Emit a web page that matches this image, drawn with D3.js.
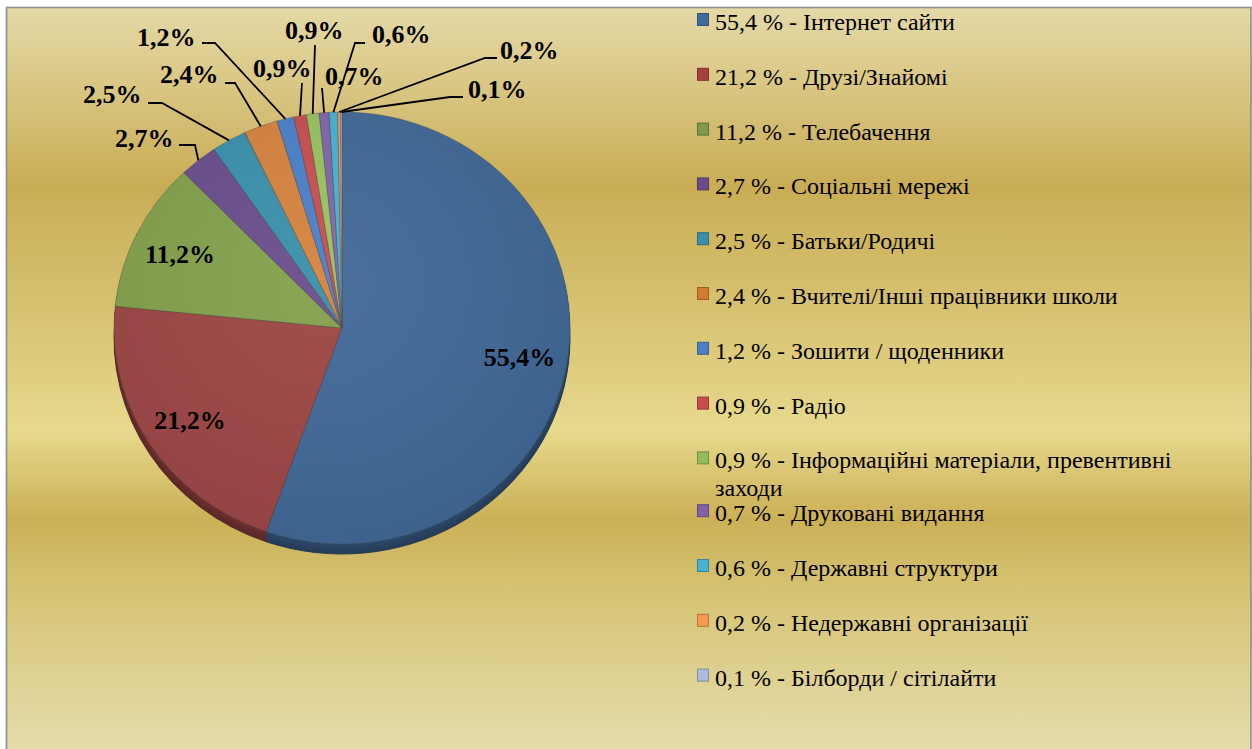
<!DOCTYPE html>
<html><head><meta charset="utf-8">
<script src="https://cdn.jsdelivr.net/npm/d3@7"></script>
<style>html,body{margin:0;padding:0;background:#fff;}svg{display:block;}
.serif{font-family:"Liberation Serif","Times New Roman",Times,Tinos,"Noto Serif","DejaVu Serif","FreeSerif","Nimbus Roman","Nimbus Roman No9 L",Georgia,serif;}</style>
</head><body>
<svg id="chart" width="1252" height="749"></svg>
<script>
// ---- data ----
const categories = [
  "Інтернет сайти","Друзі/Знайомі","Телебачення","Соціальні мережі","Батьки/Родичі",
  "Вчителі/Інші працівники школи","Зошити / щоденники","Радіо",
  "Інформаційні матеріали, превентивні заходи","Друковані видання",
  "Державні структури","Недержавні організації","Білборди / сітілайти"
];
const values = [55.4, 21.2, 11.2, 2.7, 2.5, 2.4, 1.2, 0.9, 0.9, 0.7, 0.6, 0.2, 0.1];
const sliceColors = ["#416897","#9c4644","#84a04c","#6a4e8c","#3a90ac","#d5833e",
  "#4a80c8","#c84e50","#99c25f","#8066a8","#45b2d2","#f79a50","#a9b8d8"];
const legendColors = ["#3f6a9e","#a94040","#7e9a4a","#6a4c8c","#3a8fac","#d47a34",
  "#4a7fc4","#c84d4f","#93bc5a","#8262a8","#46b1d1","#f59a4f","#aabbdd"];

// ---- layout (label placement for small slices: text left x, baseline y, leader elbow, stub end) ----
const outsideLabelLayout = {
  3:  {tx:115, ty:147, elbow:[195,145], stub:[179,145]},
  4:  {tx:83,  ty:103, elbow:[162,103], stub:[148,103]},
  5:  {tx:160, ty:83,  elbow:[235,83],  stub:[225,83]},
  6:  {tx:137, ty:46,  elbow:[215,43],  stub:[202,43]},
  7:  {tx:253, ty:77,  elbow:[302,83],  stub:null},
  8:  {tx:285, ty:39,  elbow:[315,45],  stub:null},
  9:  {tx:325, ty:85,  elbow:[322,88],  stub:null},
  10: {tx:372, ty:43,  elbow:[355,43],  stub:[365,43]},
  11: {tx:500, ty:59,  elbow:[485,58],  stub:[497,58]},
  12: {tx:468, ty:98,  elbow:[450,97],  stub:[463,97]}
};

const fmt = v => String(v.toFixed(1)).replace(".", ",");

const svg = d3.select("#chart");
const defs = svg.append("defs");

// background gradient
const bg = defs.append("linearGradient").attr("id","bg")
  .attr("gradientUnits","userSpaceOnUse").attr("x1",0).attr("y1",8).attr("x2",0).attr("y2",749);
[[0,"#e4d8a6"],[0.08,"#dccb8c"],[0.24,"#c9ad55"],[0.4,"#d6c170"],[0.57,"#e7d98d"],
 [0.69,"#cbb056"],[0.8,"#d7c577"],[1,"#e5dcab"]].forEach(([o,c]) =>
  bg.append("stop").attr("offset",o).attr("stop-color",c));

svg.append("rect").attr("x",6.5).attr("y",7.5).attr("width",1244.5).attr("height",760)
  .attr("fill","url(#bg)").attr("stroke","#8c8c8c").attr("stroke-width",1.6);

// ---- pie ----
const cx = 342, cy = 328, rx = 228, ry = 216, depth = 10;
const sy = ry / rx;
const pieData = d3.pie().sort(null).value(d => d)(values);
const arc = d3.arc().innerRadius(0).outerRadius(rx);
const labelArc = d3.arc().innerRadius(rx*0.79).outerRadius(rx*0.79);

// side (depth)
const sideG = svg.append("g").attr("transform",`translate(${cx},${cy+depth}) scale(1,${sy})`);
sideG.selectAll("path").data(pieData).join("path")
  .attr("d", arc)
  .attr("fill", (d,i) => d3.color(sliceColors[i]).darker(1.6))
  .attr("stroke", (d,i) => d3.color(sliceColors[i]).darker(1.6)).attr("stroke-width",1);
for (let k = 1; k < depth; k++) {
  sideG.append("g").attr("transform",`translate(0,${-k/sy})`).selectAll("path").data(pieData).join("path")
    .attr("d", arc)
    .attr("fill", (d,i) => d3.color(sliceColors[i]).darker(1.5 - k*0.05));
}

const topG = svg.append("g").attr("transform",`translate(${cx},${cy}) scale(1,${sy})`);
topG.selectAll("path").data(pieData).join("path")
  .attr("d", arc)
  .attr("fill", (d,i) => sliceColors[i])
  .attr("stroke", "rgba(70,70,70,0.45)").attr("stroke-width", 0.8)
  .attr("vector-effect","non-scaling-stroke");

// subtle sheen
const sheen = defs.append("radialGradient").attr("id","sheen").attr("cx","45%").attr("cy","40%").attr("r","65%");
sheen.append("stop").attr("offset",0).attr("stop-color","#fff").attr("stop-opacity",0.05);
sheen.append("stop").attr("offset",1).attr("stop-color","#000").attr("stop-opacity",0.07);
topG.append("circle").attr("r",rx).attr("fill","url(#sheen)");

// ---- labels ----
const lab = svg.append("g").attr("class","serif").attr("font-weight","bold")
  .attr("font-size",26).attr("fill","#000");

pieData.forEach((d,i) => {
  const lay = outsideLabelLayout[i];
  if (!lay) {
    const [x,y] = labelArc.centroid(d);
    lab.append("text").attr("x", cx + x).attr("y", cy + y*sy).attr("dy","0.35em")
      .attr("text-anchor","middle").text(fmt(values[i]) + "%");
  } else {
    const mid = (d.startAngle + d.endAngle)/2;
    const ex = cx + Math.sin(mid)*rx, ey = cy - Math.cos(mid)*ry;
    const pts = [[ex,ey], lay.elbow];
    if (lay.stub) pts.push(lay.stub);
    svg.append("path").attr("d", d3.line()(pts)).attr("fill","none")
      .attr("stroke","#000").attr("stroke-width",1.8);
    lab.append("text").attr("x", lay.tx).attr("y", lay.ty).text(fmt(values[i]) + "%");
  }
});

// ---- legend ----
const legX = 697, legY0 = 30, legStep = 54.8, maxW = 470;
const leg = svg.append("g").attr("class","serif").attr("font-size",24).attr("fill","#000");
categories.forEach((c,i) => {
  const by = legY0 + i*legStep - (i >= 9 ? 2 : 0);
  leg.append("rect").attr("x",legX+0.5).attr("y",by-16.5).attr("width",11).attr("height",12)
    .attr("fill",legendColors[i]).attr("stroke",d3.color(legendColors[i]).darker(0.8)).attr("stroke-width",1);
  const t = leg.append("text").attr("x",legX+18).attr("y",by);
  const full = fmt(values[i]) + " % - " + c;
  const words = full.split(" ");
  let line = [], ts = t.append("tspan").attr("x",legX+18);
  words.forEach(w => {
    line.push(w);
    ts.text(line.join(" "));
    if (ts.node().getComputedTextLength() > maxW && line.length > 1) {
      line.pop(); ts.text(line.join(" "));
      line = [w];
      ts = t.append("tspan").attr("x",legX+18).attr("dy",28).text(w);
    }
  });
});
</script>
</body></html>
